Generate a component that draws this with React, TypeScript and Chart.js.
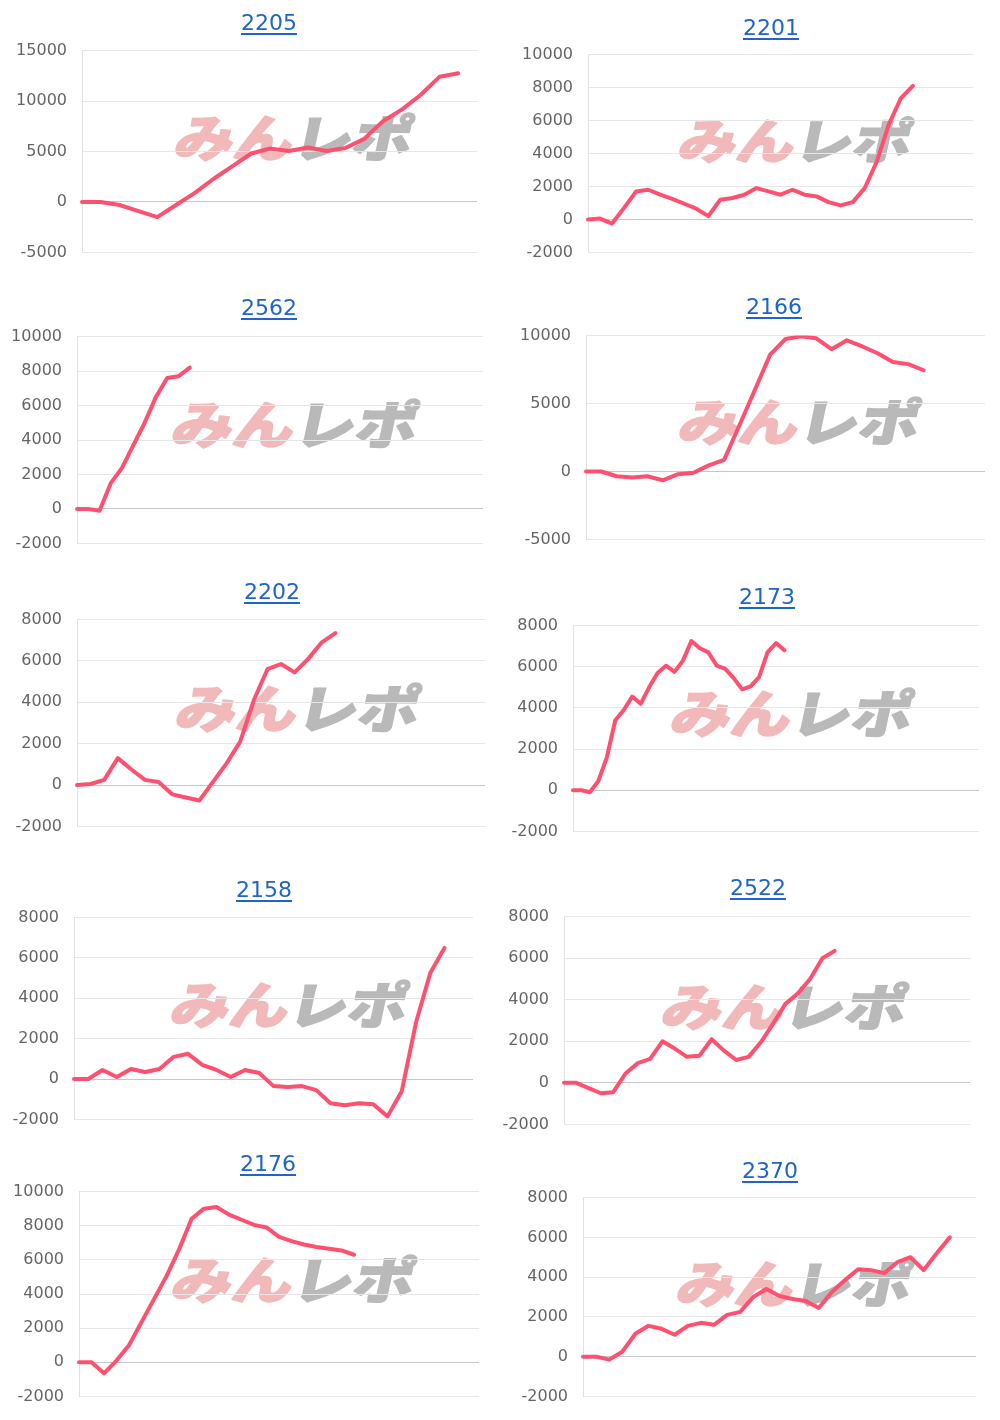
import React, { useEffect, useRef } from "react";
import { Chart, registerables } from "chart.js";
Chart.register(...registerables);

// ---- data ----
const titles = ["2205", "2201", "2562", "2166", "2202", "2173", "2158", "2522", "2176", "2370"];
const slotCounts = [22, 33, 37, 27, 31, 49, 29, 34, 33, 31];

const series2205 = [0, 0, -300, -900, -1500, -300, 900, 2300, 3550, 4800, 5300, 5050, 5400, 5050, 5350, 6250, 8000, 9150, 10600, 12400, 12750];
const series2201 = [0, 50, -250, 700, 1700, 1800, 1500, 1250, 950, 650, 200, 1200, 1300, 1500, 1900, 1700, 1500, 1800, 1500, 1400, 1050, 850, 1050, 1900, 3500, 5750, 7350, 8100];
const series2562 = [0, 0, -100, 1500, 2400, 3700, 5000, 6500, 7600, 7700, 8200];
const series2166 = [0, 0, -350, -450, -350, -650, -200, -100, 450, 850, 3400, 6000, 8600, 9750, 9950, 9800, 9000, 9650, 9200, 8700, 8050, 7900, 7450];
const series2202 = [0, 50, 250, 1300, 750, 250, 150, -450, -600, -750, 150, 1050, 2100, 4100, 5600, 5850, 5450, 6100, 6900, 7350];
const series2173 = [0, 0, -100, 450, 1600, 3400, 3900, 4550, 4200, 5000, 5700, 6050, 5750, 6300, 7250, 6900, 6700, 6050, 5900, 5450, 4900, 5050, 5500, 6700, 7150, 6800];
const series2158 = [0, 0, 450, 100, 500, 350, 500, 1100, 1250, 700, 450, 100, 450, 300, -350, -400, -350, -550, -1200, -1300, -1200, -1250, -1850, -600, 2800, 5250, 6500];
const series2522 = [0, 0, -250, -500, -450, 450, 950, 1150, 2000, 1650, 1250, 1300, 2100, 1550, 1100, 1250, 1950, 2850, 3800, 4300, 5000, 6000, 6350];
const series2176 = [0, 0, -650, 100, 1000, 2350, 3700, 5050, 6600, 8400, 9000, 9100, 8650, 8350, 8050, 7900, 7350, 7100, 6900, 6750, 6650, 6550, 6300];
const series2370 = [0, 0, -150, 250, 1150, 1550, 1400, 1100, 1550, 1700, 1600, 2100, 2250, 3000, 3400, 3050, 2900, 2800, 2450, 3250, 3850, 4400, 4350, 4200, 4750, 5000, 4350, 5200, 6000];

const seriesList = [series2205, series2201, series2562, series2166, series2202, series2173, series2158, series2522, series2176, series2370];

const yMin = [-5000, -2000, -2000, -5000, -2000, -2000, -2000, -2000, -2000, -2000];
const yMax = [15000, 10000, 10000, 10000, 8000, 8000, 8000, 8000, 10000, 8000];
const yStep = [5000, 2000, 2000, 5000, 2000, 2000, 2000, 2000, 2000, 2000];

// ---- layout (positions only) ----
type Box = { l: number; r: number; t: number; b: number; tx: number; ty: number; wx: number; wy: number; ww: number; wh: number };
const layouts: Box[] = [
  { l: 82, r: 477, t: 51, b: 253, tx: 269, ty: 23, wx: 171, wy: 116, ww: 247, wh: 45 },
  { l: 588, r: 973, t: 55, b: 253, tx: 771, ty: 28, wx: 675, wy: 120, ww: 242, wh: 43 },
  { l: 77, r: 483, t: 337, b: 544, tx: 269, ty: 308, wx: 168, wy: 403, ww: 255, wh: 46 },
  { l: 586, r: 985, t: 336, b: 540, tx: 774, ty: 307, wx: 675, wy: 400, ww: 250, wh: 45 },
  { l: 77, r: 485, t: 620, b: 827, tx: 272, ty: 592, wx: 172, wy: 687, ww: 253, wh: 46 },
  { l: 573, r: 979, t: 626, b: 832, tx: 767, ty: 597, wx: 667, wy: 692, ww: 251, wh: 46 },
  { l: 74, r: 473, t: 918, b: 1120, tx: 264, ty: 890, wx: 167, wy: 983, ww: 246, wh: 45 },
  { l: 564, r: 970, t: 917, b: 1125, tx: 758, ty: 888, wx: 658, wy: 985, ww: 254, wh: 45 },
  { l: 79, r: 479, t: 1192, b: 1397, tx: 268, ty: 1164, wx: 168, wy: 1258, ww: 252, wh: 45 },
  { l: 583, r: 976, t: 1198, b: 1397, tx: 770, ty: 1171, wx: 673, wy: 1262, ww: 244, wh: 45 },
];

const LINE = "#ff5070";
const YW = 80;
const PT = 20;
const PB = 20;
const PR = 4;

function makeLabels(n: number) {
  return Array.from({ length: n }, (_, i) => String(i + 1));
}

function LineChart({ idx }: { idx: number }) {
  const ref = useRef<HTMLCanvasElement>(null);
  const L = layouts[idx];
  const w = L.r - L.l + YW + PR;
  const h = L.b - L.t + PT + PB;
  useEffect(() => {
    const canvas = ref.current as HTMLCanvasElement;
    const chart = new Chart(canvas, {
      type: "line",
      data: {
        labels: makeLabels(slotCounts[idx]),
        datasets: [
          {
            data: seriesList[idx],
            borderColor: LINE,
            backgroundColor: LINE,
            borderWidth: 4,
            pointRadius: 0,
            pointHoverRadius: 0,
            tension: 0,
            fill: false,
            borderJoinStyle: "round",
            borderCapStyle: "round",
          },
        ],
      },
      options: {
        animation: false,
        responsive: false,
        maintainAspectRatio: false,
        layout: { padding: { top: PT, bottom: PB, left: 0, right: PR } },
        plugins: { legend: { display: false }, tooltip: { enabled: false }, title: { display: false } },
        scales: {
          x: { display: false },
          y: {
            min: yMin[idx],
            max: yMax[idx],
            ticks: {
              stepSize: yStep[idx],
              color: "#666666",
              padding: 15,
              font: { family: "DejaVu Sans", size: 16 },
              callback: (v: any) => String(v),
            },
            grid: {
              drawTicks: false,
              lineWidth: 1,
              color: (ctx: any) => (ctx.tick && ctx.tick.value === 0 ? "#c6c6c6" : "#e6e6e6"),
            },
            border: { display: true, color: "#e2e2e2" },
            afterFit: (s: any) => {
              s.width = YW;
            },
          },
        },
      },
    } as any);
    // adjust so the plot area lands exactly on the target box
    const ca = chart.chartArea;
    const mL = ca.left;
    const mT = ca.top;
    const mR = chart.width - ca.right;
    const mB = chart.height - ca.bottom;
    const nw = Math.round(mL + (L.r - L.l) + mR);
    const nh = Math.round(mT + (L.b - L.t) + mB);
    chart.resize(nw, nh);
    const ca2 = chart.chartArea;
    canvas.style.left = L.l - ca2.left + "px";
    canvas.style.top = L.t - ca2.top + "px";
    return () => chart.destroy();
  }, [idx]);
  return (
    <canvas
      ref={ref}
      width={w}
      height={h}
      style={{ position: "absolute", left: L.l - YW, top: L.t - PT, width: w, height: h, zIndex: 2 }}
    />
  );
}

function Watermark({ idx }: { idx: number }) {
  const L = layouts[idx];
  const off = L.wh * 0.22;
  return (
    <svg
      width={L.ww}
      height={L.wh}
      style={{ position: "absolute", left: L.wx, top: L.wy, zIndex: 1, overflow: "visible" }}
    >
      <g transform={`translate(${off},0) skewX(-12)`}>
        <text
          x={0}
          y={L.wh * 0.9}
          fontSize={L.wh * 1.12}
          fontWeight={900}
          fontFamily="'Noto Sans CJK JP', sans-serif"
          textLength={L.ww - off}
          lengthAdjust="spacingAndGlyphs"
          strokeWidth={1.5}
          strokeLinejoin="round"
        >
          <tspan fill="#f1b9b9" stroke="#f1b9b9">みん</tspan>
          <tspan fill="#b9b9b9" stroke="#b9b9b9">レポ</tspan>
        </text>
      </g>
    </svg>
  );
}

function Title({ idx }: { idx: number }) {
  const L = layouts[idx];
  return (
    <div
      style={{
        position: "absolute",
        left: L.tx,
        top: L.ty,
        transform: "translate(-50%, -50%)",
        fontFamily: "'DejaVu Sans', sans-serif",
        fontSize: 22,
        lineHeight: 1,
        color: "#1f64c8",
        textDecoration: "underline",
        textUnderlineOffset: 3,
        whiteSpace: "nowrap",
        zIndex: 3,
      }}
    >
      {titles[idx]}
    </div>
  );
}

export default function App() {
  return (
    <div style={{ position: "absolute", left: 0, top: 0, width: 1000, height: 1420, background: "#ffffff", overflow: "hidden" }}>
      {titles.map((_, i) => (
        <React.Fragment key={i}>
          <Watermark idx={i} />
          <LineChart idx={i} />
          <Title idx={i} />
        </React.Fragment>
      ))}
    </div>
  );
}
